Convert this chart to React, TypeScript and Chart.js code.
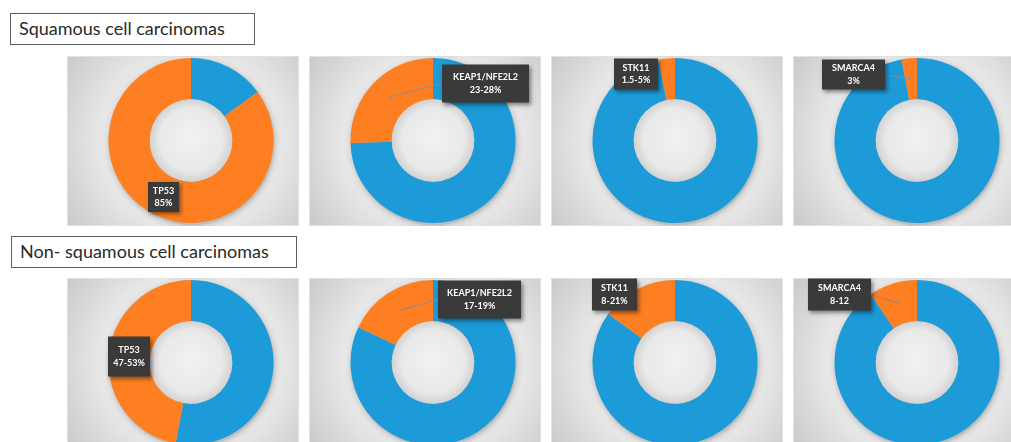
import React, { useEffect, useRef } from "react";
import { Chart, registerables } from "chart.js";

Chart.register(...registerables);

// ---------- data ----------
const genes = ["TP53", "KEAP1/NFE2L2", "STK11", "SMARCA4"];
const groupTitles = ["Squamous cell carcinomas", "Non- squamous cell carcinomas"];
// share of tumours carrying the alteration (orange slice), %
const squamousMutated = [85, 25.5, 3.25, 3];
const squamousRanges = ["85%", "23-28%", "1.5-5%", "3%"];
const nonSquamousMutated = [47, 18, 15, 9.5];
const nonSquamousRanges = ["47-53%", "17-19%", "8-21%", "8-12"];

// ---------- layout / style ----------
const BLUE = "#1c9bd8";
const ORANGE = "#fd7f21";
const PANEL_W = 232;
const PANEL_H = 170;
const PANEL_X = [67, 309, 551, 793];
const PANEL_Y = [56, 278];
// label box offsets from donut centre [dx, dy] and box sizes [w, h]
const labelOffsets = [
  [[-27.5, 56.5], [52.5, -57], [-39, -66.5], [-63.5, -66]],
  [[-62, -6], [46.5, -63], [-60.5, -68], [-77.5, -68]],
];
const labelSizes = [
  [[31, 30], [87, 38], [44, 31], [63, 30]],
  [[42, 40], [83, 38], [45, 32], [63, 32]],
];
const leaderLines = [
  [false, true, false, true],
  [false, true, false, true],
];

type DonutProps = {
  mutated: number;
  gene: string;
  range: string;
  offset: number[];
  size: number[];
  leader: boolean;
};

function Donut({ mutated, gene, range, offset, size, leader }: DonutProps) {
  const ref = useRef<HTMLCanvasElement | null>(null);
  useEffect(() => {
    if (!ref.current) return;
    const deco = {
      id: "deco",
      beforeDraw(chart: any) {
        const ctx = chart.ctx;
        const arc = chart.getDatasetMeta(0).data[0];
        const cx = arc.x, cy = arc.y;
        ctx.save();
        const g = ctx.createRadialGradient(cx, cy, 10, cx, cy, 160);
        g.addColorStop(0, "#f7f7f7");
        g.addColorStop(0.55, "#e6e6e6");
        g.addColorStop(1, "#c4c4c4");
        ctx.fillStyle = g;
        ctx.fillRect(0, 0, chart.width, chart.height);
        ctx.strokeStyle = "#e2e2e2";
        ctx.lineWidth = 1;
        ctx.strokeRect(0.5, 0.5, chart.width - 1, chart.height - 1);
        // soft shadow under the ring
        ctx.beginPath();
        ctx.arc(cx + 1, cy + 2, arc.outerRadius, 0, Math.PI * 2);
        ctx.shadowColor = "rgba(0,0,0,0.25)";
        ctx.shadowBlur = 6;
        ctx.fillStyle = "#bdbdbd";
        ctx.fill();
        ctx.restore();
      },
      afterDatasetsDraw(chart: any) {
        const ctx = chart.ctx;
        const meta = chart.getDatasetMeta(0);
        const arc = meta.data[0];
        const cx = arc.x, cy = arc.y;
        const ir = arc.innerRadius;
        ctx.save();
        // hole
        const hg = ctx.createRadialGradient(cx, cy - 4, 2, cx, cy, ir);
        hg.addColorStop(0, "#f1f1f1");
        hg.addColorStop(0.75, "#e9e9e9");
        hg.addColorStop(1, "#d2d2d2");
        ctx.beginPath();
        ctx.arc(cx, cy, ir, 0, Math.PI * 2);
        ctx.fillStyle = hg;
        ctx.fill();

        // label box
        const bx = cx + offset[0], by = cy + offset[1];
        const w = size[0], h = size[1];
        const left = bx - w / 2, top = by - h / 2;
        if (leader) {
          const t = meta.data[1].getCenterPoint();
          const sx = t.x < left ? left : left + w;
          ctx.beginPath();
          ctx.moveTo(sx, by);
          ctx.lineTo(t.x, t.y);
          ctx.strokeStyle = "#8c8c8c";
          ctx.lineWidth = 1;
          ctx.stroke();
        }
        ctx.shadowColor = "rgba(0,0,0,0.45)";
        ctx.shadowBlur = 4;
        ctx.shadowOffsetX = 2;
        ctx.shadowOffsetY = 2;
        ctx.fillStyle = "#3a3a3a";
        ctx.fillRect(left, top, w, h);
        ctx.shadowColor = "transparent";
        ctx.fillStyle = "#ffffff";
        ctx.font = "bold 9px Lato, 'Open Sans', sans-serif";
        ctx.textAlign = "center";
        ctx.textBaseline = "middle";
        ctx.fillText(gene, bx, by - 6);
        ctx.fillText(range, bx, by + 6.5);
        ctx.restore();
      },
    };
    const chart = new Chart(ref.current, {
      type: "doughnut",
      data: {
        labels: ["Other", gene],
        datasets: [
          {
            data: [100 - mutated, mutated],
            backgroundColor: [BLUE, ORANGE],
            borderWidth: 0,
          },
        ],
      },
      options: {
        responsive: false,
        animation: false,
        cutout: "50%",
        layout: { padding: { left: 16, right: 0, top: 2, bottom: 3 } },
        plugins: { legend: { display: false }, tooltip: { enabled: false } },
      },
      plugins: [deco],
    } as any);
    return () => chart.destroy();
  }, [mutated, gene, range, offset, size, leader]);
  return <canvas ref={ref} width={PANEL_W} height={PANEL_H} style={{ display: "block" }} />;
}

export default function App() {
  const groups = [
    { mutated: squamousMutated, ranges: squamousRanges },
    { mutated: nonSquamousMutated, ranges: nonSquamousRanges },
  ];
  const titleBoxes = [
    { left: 10, top: 13, width: 245, height: 32 },
    { left: 11, top: 236, width: 286, height: 32 },
  ];
  return (
    <div
      style={{
        position: "absolute",
        left: 0,
        top: 0,
        width: 1011,
        height: 442,
        overflow: "hidden",
        background: "#ffffff",
      }}
    >
      {groupTitles.map((t, gi) => (
        <div
          key={t}
          style={{
            position: "absolute",
            left: titleBoxes[gi].left,
            top: titleBoxes[gi].top,
            width: titleBoxes[gi].width,
            height: titleBoxes[gi].height,
            boxSizing: "border-box",
            border: "1.5px solid #5e5e5e",
            fontFamily: "Lato, 'Open Sans', sans-serif",
            fontSize: 18,
            color: "#2a2a2a",
            lineHeight: "29px",
            paddingLeft: 8,
            whiteSpace: "nowrap",
          }}
        >
          {t}
        </div>
      ))}
      {groups.map((g, gi) =>
        genes.map((gene, i) => (
          <div
            key={gi + "-" + gene}
            style={{ position: "absolute", left: PANEL_X[i], top: PANEL_Y[gi] }}
          >
            <Donut
              mutated={g.mutated[i]}
              gene={gene}
              range={g.ranges[i]}
              offset={labelOffsets[gi][i]}
              size={labelSizes[gi][i]}
              leader={leaderLines[gi][i]}
            />
          </div>
        ))
      )}
    </div>
  );
}
